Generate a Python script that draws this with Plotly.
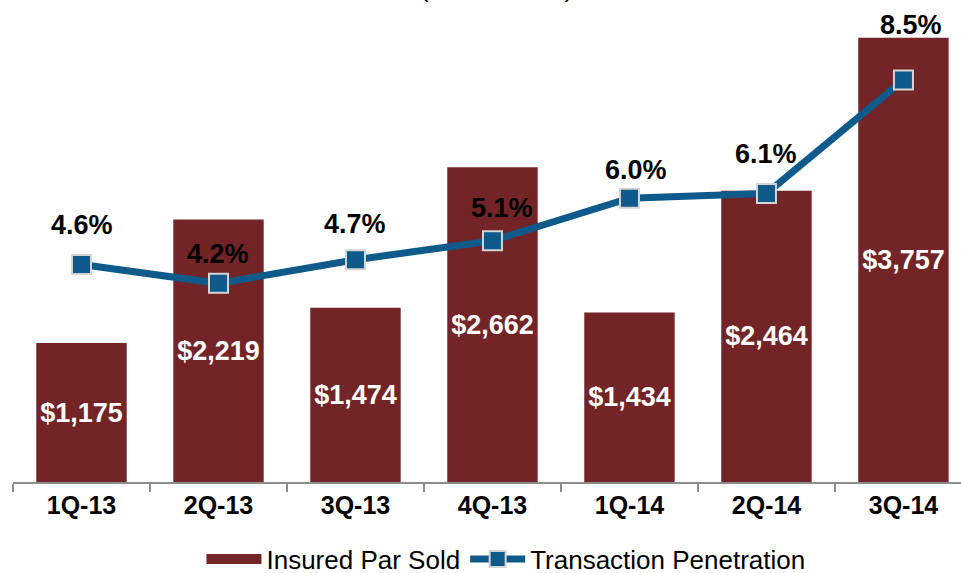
import plotly.graph_objects as go

quarters = ["1Q-13", "2Q-13", "3Q-13", "4Q-13", "1Q-14", "2Q-14", "3Q-14"]
insured_par_sold = [1175, 2219, 1474, 2662, 1434, 2464, 3757]
transaction_penetration = [4.6, 4.2, 4.7, 5.1, 6.0, 6.1, 8.5]

# label offsets (style only)
label_yshift = [39, 29, 36, 33, 28, 39, 55]
label_xshift = [0, 0, 0, 10, 7, 0, 8]

BAR = "#722426"
LINE = "#0E5A8B"
FONT = "Arial, Liberation Sans"

fig = go.Figure()
fig.add_trace(go.Bar(
    x=quarters, y=insured_par_sold, name="Insured Par Sold",
    marker=dict(color=BAR, line=dict(width=0)),
    width=0.66, showlegend=False,
    text=["$" + f"{v:,}" for v in insured_par_sold],
    textposition="inside", insidetextanchor="middle", textangle=0,
    constraintext="none",
    textfont=dict(family=FONT, size=27, color="white", weight="bold"),
    yaxis="y",
))
# legend swatch for bars (wide rectangle like the reference)
fig.add_trace(go.Scatter(
    x=[None], y=[None], name="Insured Par Sold", mode="lines",
    line=dict(color=BAR, width=15), yaxis="y",
))
fig.add_trace(go.Scatter(
    x=quarters, y=transaction_penetration, name="Transaction Penetration",
    mode="lines+markers",
    line=dict(color=LINE, width=7),
    marker=dict(symbol="square", size=19, color=LINE, line=dict(color="#D4D4D4", width=2)),
    yaxis="y2",
))

for q, v, dy, dx in zip(quarters, transaction_penetration, label_yshift, label_xshift):
    fig.add_annotation(
        x=q, y=v, xref="x", yref="y2", text=f"{v:.1f}%", showarrow=False,
        yshift=dy, xshift=dx, yanchor="middle",
        font=dict(family=FONT, size=27, color="black", weight="bold"),
    )

fig.add_annotation(
    x=0.51, y=1.0, xref="paper", yref="paper", text="($ in millions)",
    showarrow=False, yanchor="bottom", xanchor="center", yshift=4,
    font=dict(family=FONT, size=26, color="black"),
)

fig.update_layout(
    width=961, height=573,
    margin=dict(l=13, r=0, t=9, b=91, autoexpand=False),
    paper_bgcolor="white", plot_bgcolor="white",
    showlegend=True,
    legend=dict(
        orientation="h", x=0.52, xanchor="center", y=-0.163, yanchor="middle",
        font=dict(family=FONT, size=26, color="black"),
        itemwidth=55, tracegroupgap=0,
    ),
    xaxis=dict(
        range=[-0.5, 6.42], showgrid=False, showline=True, linecolor="#8C8C8C", linewidth=1.5,
        ticks="outside", tickson="boundaries", ticklen=8, tickcolor="#8C8C8C", tickwidth=1.5,
        tickfont=dict(family=FONT, size=25, color="black", weight="bold"),
        fixedrange=True,
    ),
    yaxis=dict(range=[0, 4000], visible=False, showgrid=False, fixedrange=True),
    yaxis2=dict(range=[0, 10], visible=False, showgrid=False, overlaying="y", side="right", fixedrange=True),
    bargap=0.34,
)

fig.write_html(
    "out.html",
    config={"displayModeBar": False},
    post_script="document.body.style.margin='0';document.body.style.overflow='hidden';",
)
